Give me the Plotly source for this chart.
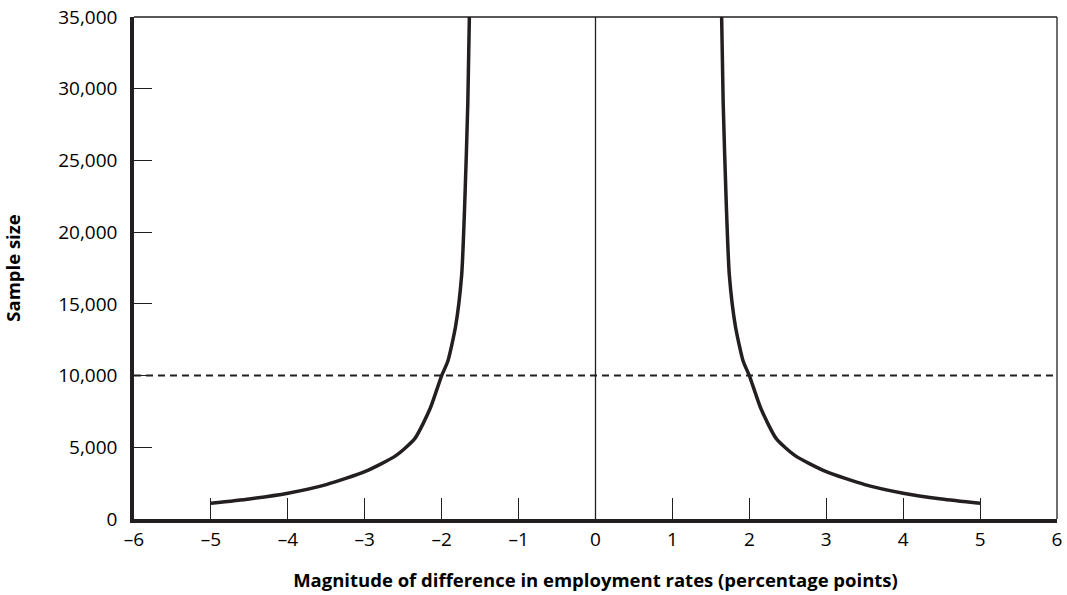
import plotly.graph_objects as go

# (right half; the curve is symmetric about 0)
diff_pos = [1.64, 1.66, 1.70, 1.74, 1.82, 1.92, 2.00, 2.15, 2.35, 2.60, 3.00, 3.50, 4.00, 4.50, 5.00]
sample_pos = [35000, 29000, 22000, 17000, 13400, 11000, 10000, 7700, 5600, 4400, 3300, 2400, 1800, 1400, 1100]

threshold = 10000

x_tickvals = [-6, -5, -4, -3, -2, -1, 0, 1, 2, 3, 4, 5, 6]
x_ticktext = ["–6", "–5", "–4", "–3", "–2", "–1", "0", "1", "2", "3", "4", "5", "6"]
y_tickvals = [0, 5000, 10000, 15000, 20000, 25000, 30000, 35000]
y_ticktext = ["0", "5,000", "10,000", "15,000", "20,000", "25,000", "30,000", "35,000"]

ink = "#231f20"
font_family = "Open Sans, Noto Sans, sans-serif"

fig = go.Figure()

# Left branch (mirror of right)
fig.add_trace(go.Scatter(
    x=[-d for d in diff_pos], y=sample_pos, mode="lines",
    line=dict(color=ink, width=3.5, shape="spline", smoothing=0.6),
    showlegend=False, hoverinfo="skip"))
# Right branch
fig.add_trace(go.Scatter(
    x=diff_pos, y=sample_pos, mode="lines",
    line=dict(color=ink, width=3.5, shape="spline", smoothing=0.6),
    showlegend=False, hoverinfo="skip"))

# Dashed threshold line
fig.add_shape(type="line", xref="paper", x0=0, x1=1, yref="y", y0=threshold, y1=threshold,
              line=dict(color=ink, width=2, dash="7px,5px"), layer="below")
# Vertical line at 0
fig.add_shape(type="line", xref="x", x0=0, x1=0, yref="paper", y0=0, y1=1,
              line=dict(color=ink, width=1.3), layer="below")
# Thin frame (top and right)
fig.add_shape(type="line", xref="paper", x0=0, x1=1, yref="paper", y0=1, y1=1,
              line=dict(color=ink, width=1.3))
fig.add_shape(type="line", xref="paper", x0=1, x1=1, yref="paper", y0=0, y1=1,
              line=dict(color=ink, width=1.3))

fig.update_layout(
    width=1067, height=595,
    margin=dict(l=134, r=10, t=17, b=76),
    paper_bgcolor="white", plot_bgcolor="white",
    font=dict(family=font_family, size=19, color="black"),
    xaxis=dict(
        range=[-6, 6], tickmode="array", tickvals=x_tickvals, ticktext=x_ticktext,
        ticks="inside", ticklen=21, tickwidth=1.3, tickcolor=ink,
        showline=True, linewidth=3.5, linecolor=ink,
        showgrid=False, zeroline=False, automargin=False,
        tickfont=dict(size=19), ticklabelstandoff=0, ticklabeloverflow="allow",
        title=dict(text="<b>Magnitude of difference in employment rates (percentage points)</b>",
                   font=dict(size=18.5), standoff=25),
    ),
    yaxis=dict(
        range=[0, 35000], tickmode="array", tickvals=y_tickvals, ticktext=y_ticktext,
        ticks="inside", ticklen=18, tickwidth=1.3, tickcolor=ink,
        showline=True, linewidth=3.5, linecolor=ink,
        showgrid=False, zeroline=False, automargin=False,
        tickfont=dict(size=19), ticklabelstandoff=9, ticklabeloverflow="allow",
        title=dict(text="<b>Sample size</b>", font=dict(size=18.5), standoff=36),
    ),
)

fig.write_html(
    "out.html",
    config={"displayModeBar": False},
    post_script="document.body.style.margin='0';document.body.style.overflow='hidden';",
)
